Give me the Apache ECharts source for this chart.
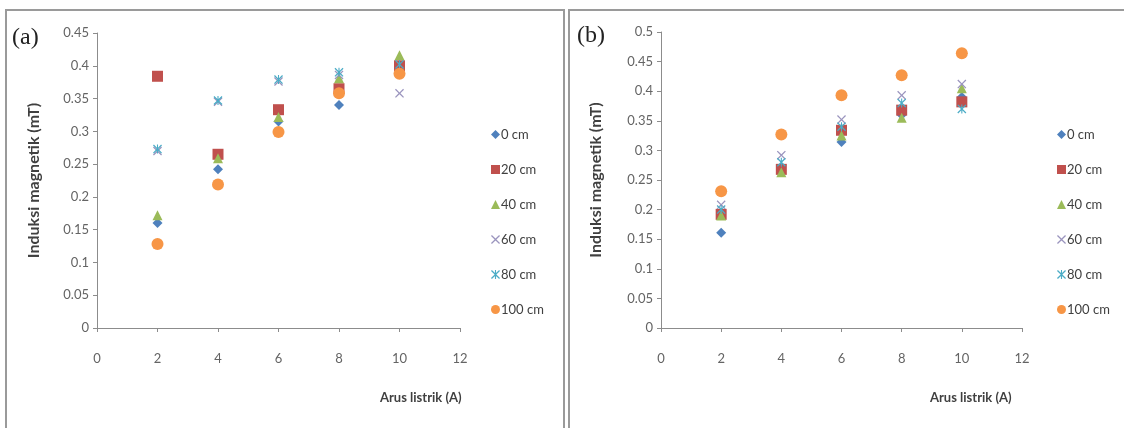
<!DOCTYPE html>
<html><head><meta charset="utf-8">
<script src="https://cdn.jsdelivr.net/npm/echarts@6/dist/echarts.min.js"></script>
<style>html,body{margin:0;padding:0;background:#fff}#c{width:1124px;height:428px}</style>
</head><body><div id="c"></div>
<script>
// ---- data ----
const xValues = [2, 4, 6, 8, 10];
const seriesNames = ['0 cm', '20 cm', '40 cm', '60 cm', '80 cm', '100 cm'];
// panel (a)
const a0 = [0.160, 0.242, 0.315, 0.340, 0.395];
const a20 = [0.384, 0.265, 0.333, 0.365, 0.400];
const a40 = [0.172, 0.259, 0.322, 0.381, 0.416];
const a60 = [0.270, 0.345, 0.376, 0.386, 0.358];
const a80 = [0.273, 0.347, 0.379, 0.390, 0.402];
const a100 = [0.128, 0.219, 0.299, 0.358, 0.388];
// panel (b)
const b0 = [0.161, 0.265, 0.314, 0.360, 0.390];
const b20 = [0.192, 0.268, 0.334, 0.368, 0.382];
const b40 = [0.190, 0.263, 0.325, 0.355, 0.405];
const b60 = [0.208, 0.292, 0.352, 0.393, 0.412];
const b80 = [0.200, 0.280, 0.340, 0.380, 0.370];
const b100 = [0.231, 0.327, 0.393, 0.427, 0.464];
const yTicksA = {min: 0, max: 0.45, interval: 0.05};
const yTicksB = {min: 0, max: 0.5, interval: 0.05};
const xTicks = {min: 0, max: 12, interval: 2};

const colors = ['#4F81BD', '#C0504D', '#9BBB59', '#9A94BE', '#4BACC6', '#F79646'];
const xPath = 'path://M0,1 L1,0 L5,4 L9,0 L10,1 L6,5 L10,9 L9,10 L5,6 L1,10 L0,9 L4,5 Z';
const starPath = 'path://M0,1 L1,0 L5,4 L9,0 L10,1 L6,5 L10,9 L9,10 L5,6 L1,10 L0,9 L4,5 Z M4.4,0 L5.6,0 L5.6,10 L4.4,10 Z';
const symbols = ['diamond', 'rect', 'triangle', xPath, starPath, 'circle'];
const sizes = [10, 11, 10, 9, 9, 12];

const panelA = [a0, a20, a40, a60, a80, a100];
const panelB = [b0, b20, b40, b60, b80, b100];

const font = 'Lato';
const labelColor = '#646464';

function mkSeries(data, idx) {
  const out = [];
  data.forEach((vals, i) => {
    out.push({
      name: seriesNames[i], type: 'scatter',
      xAxisIndex: idx, yAxisIndex: idx,
      symbol: symbols[i], symbolSize: sizes[i],
      itemStyle: {color: colors[i], opacity: 1},
      data: xValues.map((x, k) => [x, vals[k]])
    });
  });
  return out;
}

function yAxis(idx, t, gap) {
  return {
    type: 'value', gridIndex: idx, min: t.min, max: t.max, interval: t.interval,
    splitLine: {show: false},
    axisLine: {show: true, lineStyle: {color: '#8c8c8c', width: 1}},
    axisTick: {show: true, length: 4, lineStyle: {color: '#8c8c8c'}},
    axisLabel: {color: labelColor, fontFamily: font, fontSize: 13, margin: 8},
    name: 'Induksi magnetik (mT)', nameLocation: 'middle', nameGap: gap,
    nameTextStyle: {color: '#404040', fontFamily: font, fontWeight: 'bold', fontSize: 16}
  };
}
function xAxis(idx) {
  return {
    type: 'value', gridIndex: idx, min: xTicks.min, max: xTicks.max, interval: xTicks.interval,
    splitLine: {show: false},
    axisLine: {show: true, onZero: false, lineStyle: {color: '#8c8c8c', width: 1}},
    axisTick: {show: true, length: 4, lineStyle: {color: '#8c8c8c'}},
    axisLabel: {color: labelColor, fontFamily: font, fontSize: 13, margin: 24}
  };
}
function legend(left) {
  return {
    orient: 'vertical', left: left, top: 123, itemGap: 22,
    itemWidth: 9, itemHeight: 9,
    textStyle: {color: '#404040', fontFamily: font, fontSize: 13, padding: [0, 0, 0, -4]},
    data: seriesNames.map((n, i) => ({name: n, icon: symbols[i], itemStyle: {color: colors[i]}})),
    selectedMode: false
  };
}

const chart = echarts.init(document.getElementById('c'), null, {renderer: 'canvas'});
const optA = mkSeries(panelA, 0);
const optB = mkSeries(panelB, 1);
chart.setOption({
  animation: false,
  backgroundColor: '#fff',
  grid: [
    {left: 97, right: 664, top: 33, bottom: 100},
    {left: 661, right: 102, top: 32, bottom: 100}
  ],
  xAxis: [xAxis(0), xAxis(1)],
  yAxis: [yAxis(0, yTicksA, 55), yAxis(1, yTicksB, 57)],
  legend: [legend(486), legend(1052)],
  series: optA.concat(optB),
  graphic: [
    {type: 'rect', shape: {x: 6, y: 10, width: 558, height: 430}, style: {fill: 'none', stroke: '#9a9a9a', lineWidth: 2}, silent: true, z: -1},
    {type: 'rect', shape: {x: 569, y: 10, width: 570, height: 430}, style: {fill: 'none', stroke: '#9a9a9a', lineWidth: 2}, silent: true, z: -1},
    {type: 'text', left: 12, top: 26, style: {text: '(a)', font: '24px "Liberation Serif"', fill: '#222'}},
    {type: 'text', left: 577, top: 24, style: {text: '(b)', font: '24px "Liberation Serif"', fill: '#222'}},
    {type: 'text', left: 380, top: 391, style: {text: 'Arus listrik (A)', font: 'bold 13px Lato', fill: '#404040'}},
    {type: 'text', left: 930, top: 391, style: {text: 'Arus listrik (A)', font: 'bold 13px Lato', fill: '#404040'}}
  ]
});
</script></body></html>
